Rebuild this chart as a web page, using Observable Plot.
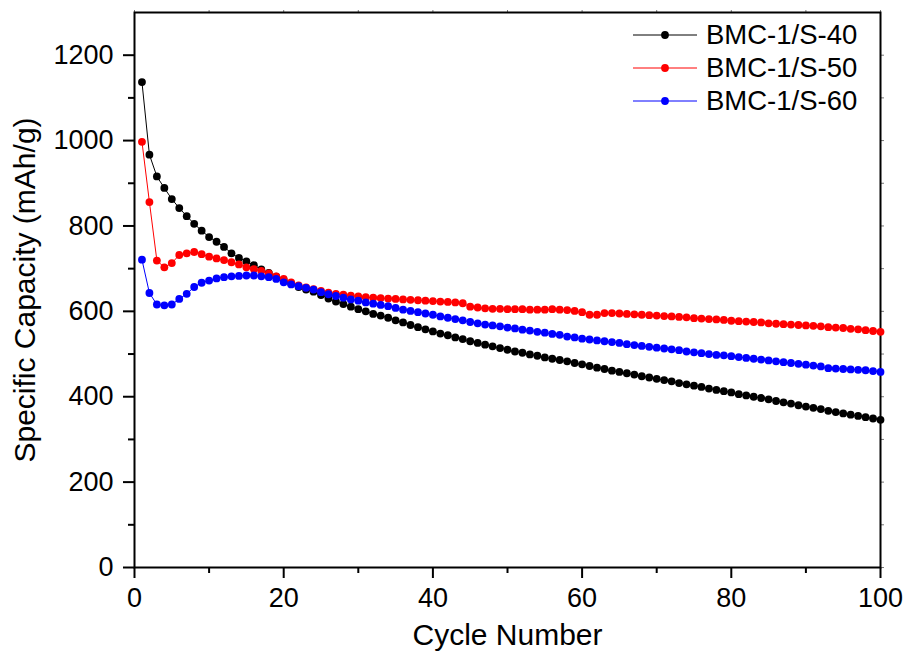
<!DOCTYPE html>
<html>
<head>
<meta charset="utf-8">
<script src="https://cdn.jsdelivr.net/npm/d3@7"></script>
<script src="https://cdn.jsdelivr.net/npm/@observablehq/plot@0.6"></script>
<style>
  body { margin: 0; background: #fff; }
  #wrap { position: relative; width: 909px; height: 652px; overflow: hidden; font-family: "Liberation Sans", Arial, sans-serif; }
  #legend { position: absolute; left: 633px; top: 18px; }
  .row { display: flex; align-items: center; height: 33px; }
  .row span { font-size: 27.5px; margin-left: 9px; color: #000; }
</style>
</head>
<body>
<div id="wrap"><div id="legend"></div></div>
<script>
const seriesNames = ["BMC-1/S-40", "BMC-1/S-50", "BMC-1/S-60"];
const seriesColors = ["#000000", "#ff0000", "#0000ff"];

const s40 = [1137,967,916,889,863,842,823,805,789,774,763,751,736,725,717,708,698,690,681,673,
  665,657,651,646,638,630,623,617,611,605,600,594,590,585,579,574,568,563,558,553,
  548,544,539,535,530,526,522,518,514,510,506,503,499,496,492,489,486,483,479,476,
  472,468,465,461,458,455,452,448,445,442,439,436,432,429,426,423,419,416,413,410,
  406,403,400,397,394,390,387,384,380,377,374,371,367,364,361,358,355,352,349,346];

const s50 = [997,856,719,703,713,732,736,739,734,728,724,720,715,710,703,699,695,689,682,676,
  668,661,656,652,648,644,641,639,637,635,633,632,631,630,629,628,627,626,625,624,
  623,622,621,619,611,609,607,606,606,605,605,605,604,604,604,605,604,603,601,598,
  592,592,596,596,595,594,593,592,591,590,589,588,587,586,584,583,582,581,580,578,
  577,576,575,574,572,571,570,569,568,567,566,565,563,562,561,559,558,556,554,552];

const s60 = [721,643,616,614,616,629,641,657,667,672,677,680,682,683,684,684,682,680,676,668,
  663,659,655,651,645,640,636,632,628,625,621,618,615,612,608,604,601,598,595,592,
  588,585,582,579,575,572,569,567,565,562,560,557,555,552,550,547,545,541,539,536,
  534,532,530,528,526,523,521,519,517,515,513,511,509,506,504,502,500,498,497,495,
  493,491,489,487,485,483,481,479,477,475,473,471,467,466,465,464,463,462,460,458];

const xTicks = [0, 20, 40, 60, 80, 100];
const xMinor = [10, 30, 50, 70, 90];
const yTicks = [0, 200, 400, 600, 800, 1000, 1200];
const yMinor = [100, 300, 500, 700, 900, 1100];
const xLabel = "Cycle Number";
const yLabel = "Specific Capacity (mAh/g)";

const allSeries = [s40, s50, s60];
const data = allSeries.flatMap((vals, si) =>
  vals.map((v, i) => ({cycle: i + 1, cap: v, series: seriesNames[si]})));

const font = `"Liberation Sans", Arial, sans-serif`;
const blank = () => "";
const plain = d => `${d}`;

const chart = Plot.plot({
  width: 909,
  height: 652,
  marginLeft: 134,
  marginRight: 29,
  marginTop: 12,
  marginBottom: 85,
  style: {fontFamily: font, fontSize: "27px", background: "#fff", color: "#000", overflow: "visible"},
  x: {domain: [0, 100]},
  y: {domain: [0, 1300]},
  marks: [
    Plot.axisX({ticks: xTicks, tickSize: 11, tickPadding: 9, strokeWidth: 2,
      label: xLabel, labelAnchor: "center", labelArrow: "none", labelOffset: 77, tickFormat: plain}),
    Plot.axisX({ticks: xMinor, tickSize: 6, strokeWidth: 2, tickFormat: blank, label: null}),
    Plot.axisX({anchor: "top", ticks: [...xTicks, ...xMinor], tickSize: 3, stroke: "#777", strokeWidth: 1, tickFormat: blank, label: null}),
    Plot.axisY({ticks: yTicks, tickSize: 11, tickPadding: 10, strokeWidth: 2,
      label: yLabel, labelAnchor: "center", labelArrow: "none", labelOffset: 121, tickFormat: plain}),
    Plot.axisY({ticks: yMinor, tickSize: 6, strokeWidth: 2, tickFormat: blank, label: null}),
    Plot.axisY({anchor: "right", ticks: [...yTicks, ...yMinor], tickSize: 3, stroke: "#777", strokeWidth: 1, tickFormat: blank, label: null}),
    Plot.frame({stroke: "#000", strokeWidth: 2}),
    ...seriesNames.map((name, si) => [
      Plot.line(data.filter(d => d.series === name), {x: "cycle", y: "cap", stroke: seriesColors[si], strokeWidth: 1}),
      Plot.dot(data.filter(d => d.series === name), {x: "cycle", y: "cap", fill: seriesColors[si], r: 3.9, stroke: null})
    ]).flat()
  ]
});

// enlarge the axis titles
chart.querySelectorAll("text").forEach(t => {
  const s = t.textContent.replace(/[↑→↓←]/g, "").trim();
  if (s === xLabel || s === yLabel) {
    t.style.fontSize = "30px";
    t.setAttribute("font-size", "30");
  }
});

const wrap = document.getElementById("wrap");
wrap.insertBefore(chart, wrap.firstChild);

const legend = document.getElementById("legend");
seriesNames.forEach((name, i) => {
  const row = document.createElement("div");
  row.className = "row";
  row.innerHTML = `<svg width="64" height="10"><line x1="0" x2="64" y1="5" y2="5" stroke="${seriesColors[i]}" stroke-width="1"/><circle cx="32" cy="5" r="3.9" fill="${seriesColors[i]}"/></svg><span>${name}</span>`;
  legend.appendChild(row);
});
</script>
</body>
</html>
